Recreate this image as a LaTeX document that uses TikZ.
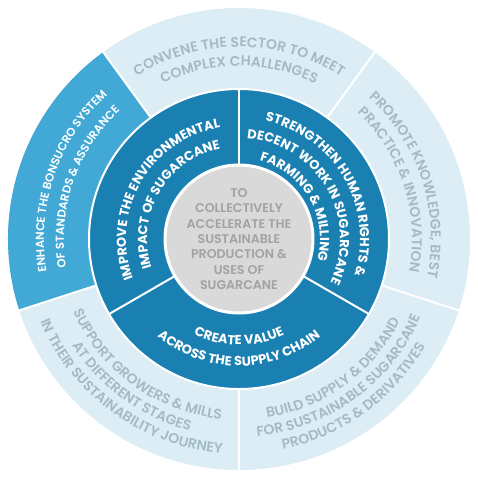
\documentclass[tikz,border=0pt]{standalone}
\usepackage{fontspec}
\setmainfont{Poppins}
\IfFontExistsTF{Poppins SemiBold}
  {\newfontfamily\wheelfont{Poppins SemiBold}}
  {\newfontfamily\wheelfont{Poppins Medium}}
\usetikzlibrary{decorations.text}
\definecolor{palesky}{HTML}{DCEDF5}
\definecolor{skyblue}{HTML}{42A9D7}
\definecolor{deepblue}{HTML}{1A7FB1}
\definecolor{coregrey}{HTML}{D9D9D9}
\definecolor{slate}{HTML}{A3BBC7}
\definecolor{stone}{HTML}{A2A2A2}

\begin{document}
\begin{tikzpicture}[
  gap/.style={white, line width=2pt},
  outer text/.style={decorate, decoration={text along path, text align=center,
    text color=slate, text={|\wheelfont\fontsize{14}{17}\selectfont|#1}}},
  light text/.style={decorate, decoration={text along path, text align=center,
    text color=white, text={|\wheelfont\fontsize{11.6}{15}\selectfont|#1}}},
  inner text/.style={decorate, decoration={text along path, text align=center,
    text color=white, text={|\bfseries\fontsize{13}{15}\selectfont|#1}}},
]
\useasboundingbox (-239pt,-238pt) rectangle (239pt,239pt);

% ===== rings =====
\fill[palesky] (0,0) circle (231pt);
\fill[skyblue] (126:150pt) -- (126:231pt)
  arc[start angle=126, end angle=198, radius=231pt] -- (198:150pt)
  arc[start angle=198, end angle=126, radius=150pt] -- cycle;
\fill[deepblue] (0,0) circle (150pt);
\fill[coregrey] (0,0) circle (74pt);

% white borders
\draw[gap] (0,0) circle (150pt);
\draw[gap, line width=3pt] (0,0) circle (74pt);
\foreach \a in {54,126,198,270,342}
  \draw[gap] (\a:151pt) -- (\a:232pt);
\foreach \a in {90,210,330}
  \draw[gap] (\a:75pt) -- (\a:149pt);

% ===== outer ring texts =====
% top: convene
\path[outer text={CONVENE THE SECTOR TO MEET}]
  (126:192pt) arc[start angle=126, end angle=54, radius=192pt];
\path[outer text={COMPLEX CHALLENGES}]
  (126:173pt) arc[start angle=126, end angle=54, radius=173pt];
% left: enhance
\path[light text={ENHANCE THE BONSUCRO SYSTEM}]
  (202:195pt) arc[start angle=202, end angle=120, radius=195pt];
\path[light text={OF STANDARDS {\&} ASSURANCE}]
  (202:175pt) arc[start angle=202, end angle=120, radius=175pt];
% right: promote
\path[outer text={PROMOTE KNOWLEDGE, BEST}]
  (54:192pt) arc[start angle=54, end angle=-18, radius=192pt];
\path[outer text={PRACTICE {\&} INNOVATION}]
  (54:173pt) arc[start angle=54, end angle=-18, radius=173pt];
% bottom left: support
\path[outer text={SUPPORT GROWERS {\&} MILLS}]
  (198:181pt) arc[start angle=198, end angle=270, radius=181pt];
\path[outer text={AT DIFFERENT STAGES}]
  (198:198pt) arc[start angle=198, end angle=270, radius=198pt];
\path[outer text={IN THEIR SUSTAINABILITY JOURNEY}]
  (198:215pt) arc[start angle=198, end angle=270, radius=215pt];
% bottom right: build
\path[outer text={BUILD SUPPLY {\&} DEMAND}]
  (270:181pt) arc[start angle=270, end angle=342, radius=181pt];
\path[outer text={FOR SUSTAINABLE SUGARCANE}]
  (270:198pt) arc[start angle=270, end angle=342, radius=198pt];
\path[outer text={PRODUCTS {\&} DERIVATIVES}]
  (270:215pt) arc[start angle=270, end angle=342, radius=215pt];

% ===== middle ring texts =====
\path[inner text={IMPROVE THE ENVIRONMENTAL}]
  (210:113pt) arc[start angle=210, end angle=90, radius=113pt];
\path[inner text={IMPACT OF SUGARCANE}]
  (210:92pt) arc[start angle=210, end angle=90, radius=92pt];
\path[inner text={STRENGTHEN HUMAN RIGHTS {\&}}]
  (90:121pt) arc[start angle=90, end angle=-30, radius=121pt];
\path[inner text={DECENT WORK IN SUGARCANE}]
  (90:101pt) arc[start angle=90, end angle=-30, radius=101pt];
\path[inner text={FARMING {\&} MILLING}]
  (90:81pt) arc[start angle=90, end angle=-30, radius=81pt];
\path[inner text={CREATE VALUE}]
  (210:106pt) arc[start angle=210, end angle=330, radius=106pt];
\path[inner text={ACROSS THE SUPPLY CHAIN}]
  (210:127pt) arc[start angle=210, end angle=330, radius=127pt];

% ===== core =====
\node[align=center, text=stone, font=\wheelfont\fontsize{12.6}{15.3}\selectfont] (core) at (0,0)
  {TO\\COLLECTIVELY\\ACCELERATE THE\\SUSTAINABLE\\PRODUCTION \&\\USES OF\\SUGARCANE};

\end{tikzpicture}
\end{document}
